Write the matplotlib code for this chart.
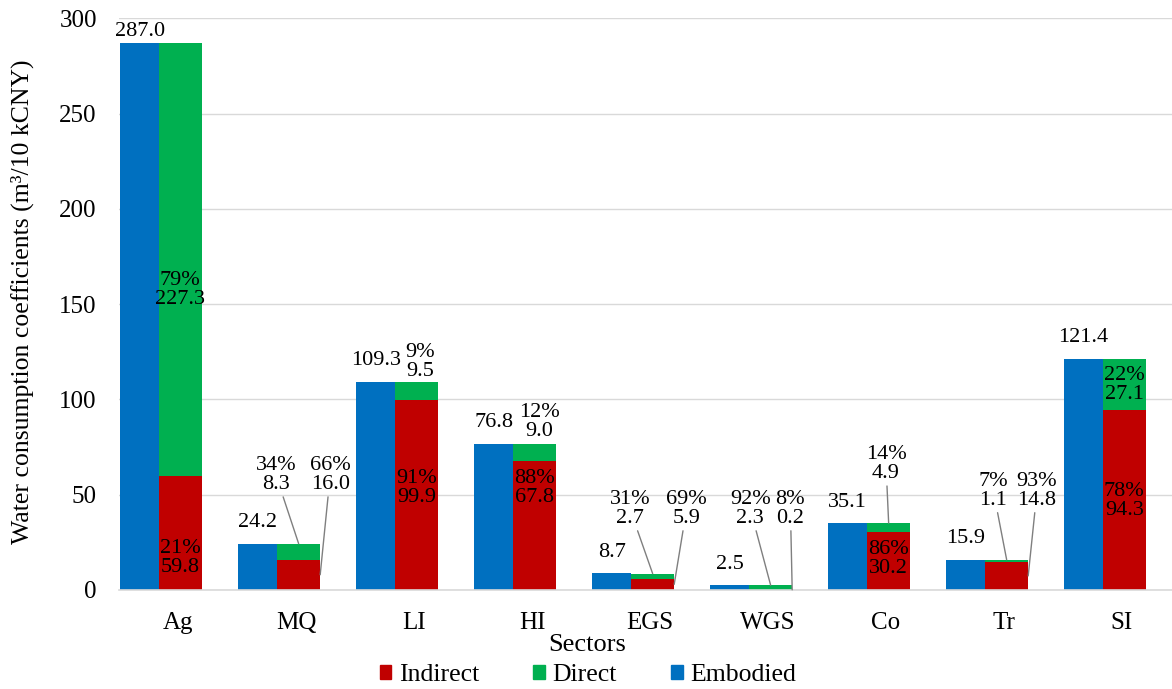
import numpy as np
import matplotlib.pyplot as plt
from matplotlib.patches import Patch

plt.rcParams['font.family'] = ['Liberation Serif', 'DejaVu Serif']

# data
sectors = ["Ag", "MQ", "LI", "HI", "EGS", "WGS", "Co", "Tr", "SI"]
embodied = [287.0, 24.2, 109.3, 76.8, 8.7, 2.5, 35.1, 15.9, 121.4]
indirect = [59.8, 16.0, 99.9, 67.8, 5.9, 0.2, 30.2, 14.8, 94.3]
direct = [227.3, 8.3, 9.5, 9.0, 2.7, 2.3, 4.9, 1.1, 27.1]
indirect_pct = [21, 66, 91, 88, 69, 8, 86, 93, 78]
direct_pct = [79, 34, 9, 12, 31, 92, 14, 7, 22]
yticks = [0, 50, 100, 150, 200, 250, 300]

# label anchors (x offset from category, y) and whether a leader line is drawn
direct_lab = [(0.02, 157.3, False), (-0.17, 60.3, True), (0.055, 119.8, False),
              (0.06, 88.4, False), (-0.17, 42.5, True), (-0.15, 42.5, True),
              (0.0, 66.0, True), (-0.09, 52.0, True), (0.02, 107.5, False)]
indirect_lab = [(0.02, 16.8, False), (0.29, 60.3, True), (0.02, 53.5, False),
                (0.02, 53.5, False), (0.31, 42.5, True), (0.19, 42.5, True),
                (0.02, 16.3, False), (0.28, 52.0, True), (0.02, 46.7, False)]

BLUE, GREEN, RED = "#0070C0", "#00B050", "#C00000"
FS = 16      # data labels
AFS = 18     # axis text

fig = plt.figure(figsize=(11.72, 6.89), dpi=100)
ax = fig.add_axes([119 / 1172, 1 - 590 / 689, 1 - 119 / 1172, (590 - 18.3) / 689])

x = np.arange(len(sectors))
b_left, b_w = -0.49, 0.33
s_left, s_w = -0.16, 0.365

ax.bar(x + b_left, embodied, width=b_w, align='edge', color=BLUE, zorder=2)
ax.bar(x + s_left, indirect, width=s_w, align='edge', color=RED, zorder=2)
ax.bar(x + s_left, direct, width=s_w, bottom=indirect, align='edge', color=GREEN, zorder=2)

ax.set_xlim(-0.5, (1172 - 119) / 118 - 0.5)
ax.set_ylim(0, 300)
ax.set_yticks(yticks)
ax.set_xticks(x)
ax.set_xticklabels(sectors, fontsize=AFS)
ax.tick_params(axis='y', length=0, pad=16, labelsize=AFS)
ax.tick_params(axis='x', length=0, pad=16)
ax.yaxis.grid(True, color="#D9D9D9", lw=1, zorder=0)
for s in ["top", "right", "left"]:
    ax.spines[s].set_visible(False)
ax.spines["bottom"].set_color("#D9D9D9")
ax.spines["bottom"].set_linewidth(1.2)

# embodied totals above the blue bars
for i, v in enumerate(embodied):
    ax.text(i + b_left + b_w / 2, min(v + 11, 293.2), f"{v:.1f}",
            ha='center', va='center', fontsize=FS, zorder=3)

stack_c = s_left + s_w / 2
lead = dict(arrowstyle='-', color="#7F7F7F", lw=1, shrinkA=0, shrinkB=0)
for i in range(len(sectors)):
    total = indirect[i] + direct[i]
    dx, dy, has_line = direct_lab[i]
    txt = f"{direct_pct[i]}%\n{direct[i]:.1f}"
    if has_line:
        ax.annotate(txt, xy=(i + stack_c, total), xytext=(i + dx, dy),
                    ha='center', va='center', fontsize=FS, linespacing=1.0,
                    arrowprops=lead, zorder=3)
    else:
        ax.text(i + dx, dy, txt, ha='center', va='center', fontsize=FS,
                linespacing=1.0, zorder=3)
    dx, dy, has_line = indirect_lab[i]
    txt = f"{indirect_pct[i]}%\n{indirect[i]:.1f}"
    if has_line:
        ax.annotate(txt, xy=(i + s_left + s_w, indirect[i] / 2), xytext=(i + dx, dy),
                    ha='center', va='center', fontsize=FS, linespacing=1.0,
                    arrowprops=lead, zorder=3)
    else:
        ax.text(i + dx, dy, txt, ha='center', va='center', fontsize=FS,
                linespacing=1.0, zorder=3)

ax.set_ylabel("Water consumption coefficients (m³/10 kCNY)", fontsize=18.5)
ax.yaxis.set_label_coords(-0.092, 0.505)
ax.yaxis.label.set_va('center')
ax.set_xlabel("Sectors", fontsize=19)
ax.xaxis.set_label_coords((587 - 119) / 1053, -0.096)
ax.xaxis.label.set_va('center')

handles = [Patch(color=RED, label="Indirect"), Patch(color=GREEN, label="Direct"),
           Patch(color=BLUE, label="Embodied")]
fig.legend(handles=handles, ncol=3, loc='center', bbox_to_anchor=(588 / 1172, 1 - 675 / 689),
           frameon=False, fontsize=18.5, handlelength=0.45, handleheight=0.45,
           handletextpad=0.3, columnspacing=2.1, borderaxespad=0, borderpad=0)

plt.savefig("out.png", dpi=100)
